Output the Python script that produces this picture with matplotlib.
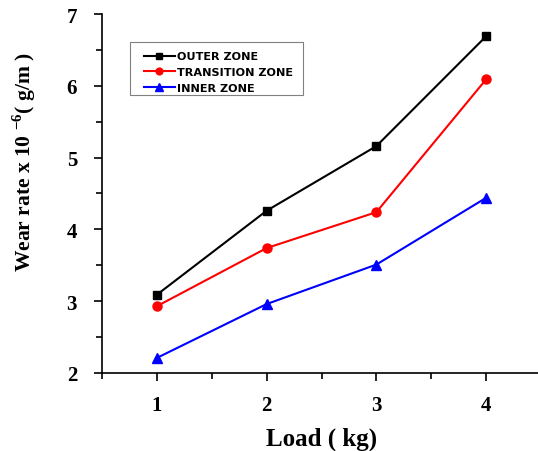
import matplotlib
matplotlib.use("Agg")
import matplotlib.pyplot as plt
from matplotlib.ticker import MultipleLocator
from matplotlib.patches import Rectangle

load = [1, 2, 3, 4]
outer = [3.09, 4.26, 5.16, 6.69]
transition = [2.93, 3.74, 4.24, 6.09]
inner = [2.21, 2.96, 3.51, 4.44]

plt.rcParams['mathtext.fontset'] = 'custom'
plt.rcParams['mathtext.rm'] = 'Liberation Serif:bold'
plt.rcParams['mathtext.bf'] = 'Liberation Serif:bold'

W, H = 538, 452
fig = plt.figure(figsize=(W / 100, H / 100), dpi=100)
ax = fig.add_axes([0.1896, 0.1726, 0.8160, 0.7942])

ax.plot(load, outer, color='black', marker='s', ms=6, lw=1.5, label='OUTER ZONE')
ax.plot(load, transition, color='red', marker='o', ms=6.5, lw=1.5, label='TRANSITION ZONE')
ax.plot(load, inner, color='blue', marker='^', ms=7, lw=1.5, label='INNER ZONE')

ax.set_xlim(0.5, 4.5)
ax.set_ylim(2, 7)
ax.xaxis.set_major_locator(MultipleLocator(1))
ax.xaxis.set_minor_locator(MultipleLocator(0.5))
ax.yaxis.set_major_locator(MultipleLocator(1))
ax.yaxis.set_minor_locator(MultipleLocator(0.5))
for s in ['top', 'right']:
    ax.spines[s].set_visible(False)
for s in ['left', 'bottom']:
    ax.spines[s].set_linewidth(1.2)
ax.tick_params(which='major', direction='out', length=6, width=1.2)
ax.tick_params(axis='y', which='major', pad=12)
ax.tick_params(axis='x', which='major', pad=10)
ax.tick_params(which='minor', direction='out', length=4, width=1.2)
for lab in ax.get_xticklabels() + ax.get_yticklabels():
    lab.set_fontfamily('Liberation Serif')
    lab.set_fontweight('bold')
    lab.set_fontsize(15)

ax.set_xlabel('Load ( kg)', fontfamily='Liberation Serif', fontweight='bold', fontsize=18, labelpad=8)
ax.set_ylabel(r'Wear rate x 10 $^{-6}$( g/m )', fontfamily='Liberation Serif', fontweight='bold', fontsize=15.5)
ax.yaxis.set_label_coords(-0.146, 0.59)

leg = ax.legend(loc='upper left', bbox_to_anchor=(144 / W, 1 - 52.5 / H), bbox_transform=fig.transFigure,
                prop={'family': 'DejaVu Sans', 'weight': 'bold', 'size': 8.1},
                frameon=False, handlelength=2.75, handletextpad=0.2,
                labelspacing=0.5, borderpad=0, borderaxespad=0, markerscale=0.75)
fig.patches.append(Rectangle((130 / W, 1 - 96 / H), 173 / W, 53 / H, transform=fig.transFigure,
                             fill=False, edgecolor='gray', lw=0.8, zorder=5))

fig.savefig('out.png', dpi=100)
